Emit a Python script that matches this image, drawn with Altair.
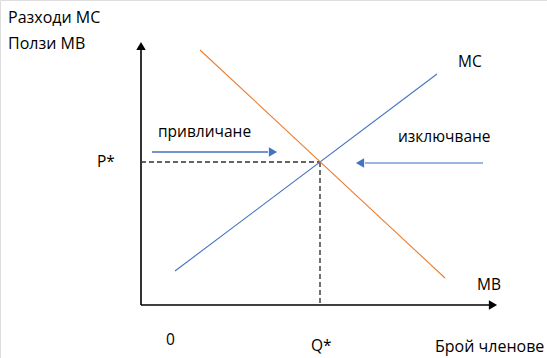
import altair as alt
import pandas as pd

# economic coordinates: origin (0,0) at axes corner
Q_STAR = 179
P_STAR = 143
AXIS_X_END = 357
AXIS_Y_END = 264

mc_x = [34, 296]
mc_y = [34, 231]
mb_x = [59, 304]
mb_y = [255, 27]

attract_x = [11, 137]
attract_y = [153, 153]
exclude_x = [342, 214]
exclude_y = [142, 142]

labels_text = ["Разходи МС", "Ползи МВ", "P*", "0", "Q*", "Брой членове", "MC", "MB", "привличане", "изключване"]
labels_x = [-133, -133, -44, 25, 170, 294, 317, 336, 17, 257]
labels_y = [287, 261, 143, -35, -41, -42, 243, 20, 173, 168]
labels_size = [16, 16, 15.5, 15.5, 15.5, 16, 15.5, 15.5, 15.5, 15.5]

FONT = "Open Sans"
X = alt.Scale(domain=[-141, 406], range=[0, 547], nice=False, zero=False)
Y = alt.Scale(domain=[-53, 305], range=[358, 0], nice=False, zero=False)

def seg(xs, ys, color, width, dash=None, opacity=1):
    df = pd.DataFrame({"x": xs, "y": ys, "o": list(range(len(xs)))})
    kw = dict(color=color, strokeWidth=width, opacity=opacity)
    if dash:
        kw["strokeDash"] = dash
    return alt.Chart(df).mark_line(**kw).encode(
        x=alt.X("x:Q", scale=X, axis=None),
        y=alt.Y("y:Q", scale=Y, axis=None),
        order="o:Q",
    )

def head(x, y, shape, color, size):
    df = pd.DataFrame({"x": [x], "y": [y]})
    return alt.Chart(df).mark_point(shape=shape, filled=True, color=color, size=size, opacity=1, strokeWidth=0).encode(
        x=alt.X("x:Q", scale=X, axis=None),
        y=alt.Y("y:Q", scale=Y, axis=None),
    )

layers = [
    seg([0, 0], [0, AXIS_Y_END - 8], "black", 1.6),
    seg([0, AXIS_X_END - 8], [0, 0], "black", 1.6),
    head(0, AXIS_Y_END - 5, "triangle-up", "black", 90),
    head(AXIS_X_END - 5, 0, "triangle-right", "black", 90),
    seg([0, Q_STAR], [P_STAR, P_STAR], "#333333", 1.4, [5, 3]),
    seg([Q_STAR, Q_STAR], [P_STAR, 0], "#333333", 1.4, [5, 3]),
    seg(mc_x, mc_y, "#4472C4", 1.1),
    seg(mb_x, mb_y, "#ED7D31", 1.1),
    seg([attract_x[0], attract_x[1] - 10], attract_y, "#4472C4", 1.3),
    head(attract_x[1] - 5, attract_y[0], "triangle-right", "#4472C4", 90),
    seg([exclude_x[0], exclude_x[1] + 10], exclude_y, "#9DB4E0", 2.2),
    head(exclude_x[1] + 5, exclude_y[0], "triangle-left", "#4472C4", 90),
]

tdf = pd.DataFrame({"t": labels_text, "x": labels_x, "y": labels_y, "s": labels_size})
text = alt.Chart(tdf).mark_text(align="left", baseline="middle", font=FONT, color="black").encode(
    x=alt.X("x:Q", scale=X, axis=None),
    y=alt.Y("y:Q", scale=Y, axis=None),
    text="t:N",
    size=alt.Size("s:Q", scale=None, legend=None),
)
layers.append(text)

chart = alt.layer(*layers).properties(
    width=547, height=358, padding=0, autosize=alt.AutoSizeParams(type="none")
).configure_view(stroke=None).configure(background="white")

chart.save("out.html", embed_options={"renderer": "svg", "actions": False})
